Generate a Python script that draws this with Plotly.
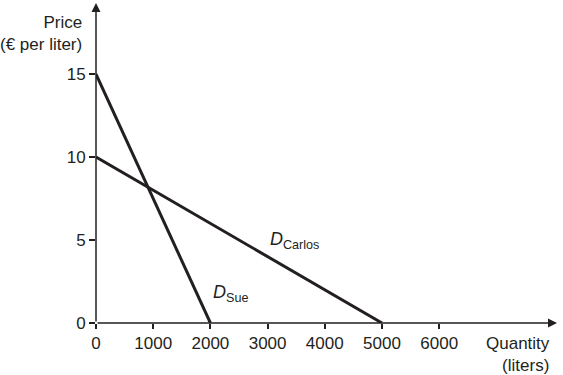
import plotly.graph_objects as go

# Data
sue_quantity = [0, 2000]
sue_price = [15, 0]
carlos_quantity = [0, 5000]
carlos_price = [10, 0]
x_ticks = [0, 1000, 2000, 3000, 4000, 5000, 6000]
y_ticks = [0, 5, 10, 15]

INK = "#231f20"
FONT = "Arial, Liberation Sans, sans-serif"

fig = go.Figure()
fig.add_trace(go.Scatter(x=sue_quantity, y=sue_price, mode="lines",
                         line=dict(color=INK, width=3), cliponaxis=False, showlegend=False))
fig.add_trace(go.Scatter(x=carlos_quantity, y=carlos_price, mode="lines",
                         line=dict(color=INK, width=3), cliponaxis=False, showlegend=False))

XMAX = 8060
YMAX = 19.28

fig.update_xaxes(range=[0, XMAX], tickvals=x_ticks, ticktext=[str(v) for v in x_ticks],
                 showgrid=False, zeroline=False, showline=False, automargin=False,
                 ticks="outside", ticklen=5, tickwidth=1.5, tickcolor=INK,
                 tickfont=dict(family=FONT, size=17, color=INK))
fig.update_yaxes(range=[0, YMAX], tickvals=y_ticks, ticktext=[str(v) for v in y_ticks],
                 showgrid=False, zeroline=False, showline=False, automargin=False,
                 ticks="outside", ticklen=6, tickwidth=1.5, tickcolor=INK,
                 tickfont=dict(family=FONT, size=17, color=INK))

annotations = [
    # axis arrows
    dict(x=XMAX, y=0, ax=0, ay=0, xref="x", yref="y", axref="x", ayref="y",
         showarrow=True, arrowhead=2, arrowsize=1.2, arrowwidth=1.5, arrowcolor=INK, text=""),
    dict(x=0, y=YMAX, ax=0, ay=0, xref="x", yref="y", axref="x", ayref="y",
         showarrow=True, arrowhead=2, arrowsize=1.2, arrowwidth=1.5, arrowcolor=INK, text=""),
    # axis titles
    dict(x=-0.026, y=0.906, xref="paper", yref="paper", text="Price<br>(€ per liter)",
         showarrow=False, xanchor="right", yanchor="middle", align="right",
         font=dict(family=FONT, size=17, color=INK)),
    dict(x=0.989, y=-0.097, xref="paper", yref="paper", text="Quantity<br>(liters)",
         showarrow=False, xanchor="right", yanchor="middle", align="right",
         font=dict(family=FONT, size=17, color=INK)),
    # curve labels
    dict(x=3000, y=5.0, xref="x", yref="y", text="<i>D</i><sub>Carlos</sub>", showarrow=False,
         xanchor="left", yanchor="middle", font=dict(family=FONT, size=18, color=INK)),
    dict(x=2010, y=1.8, xref="x", yref="y", text="<i>D</i><sub>Sue</sub>", showarrow=False,
         xanchor="left", yanchor="middle", font=dict(family=FONT, size=18, color=INK)),
]

fig.update_layout(width=563, height=375, margin=dict(l=96, r=6, t=3, b=52),
                  plot_bgcolor="white", paper_bgcolor="white",
                  annotations=annotations, font=dict(family=FONT))

fig.write_html("out.html", config={"displayModeBar": False},
               post_script="document.body.style.margin='0';")
